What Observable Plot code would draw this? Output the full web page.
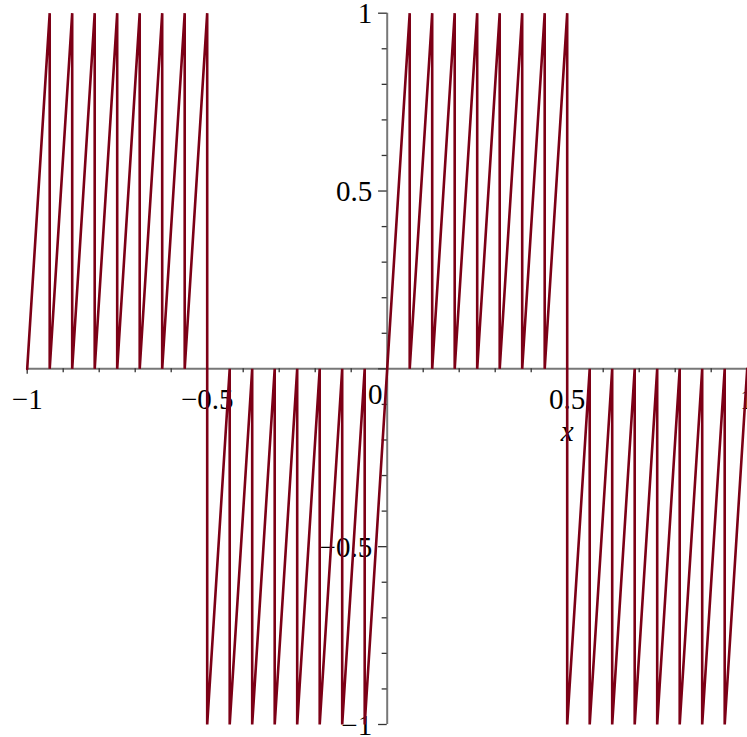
<!DOCTYPE html>
<html><head><meta charset="utf-8">
<script src="https://cdn.jsdelivr.net/npm/d3@7"></script>
<script src="https://cdn.jsdelivr.net/npm/@observablehq/plot@0.6"></script>
<style>body{margin:0;background:#fff;overflow:hidden}</style>
</head><body><div id="chart"></div>
<script>
// Curve vertices (sawtooth, 8 teeth per half unit)
const curveX = [
  -1, -0.9375, -0.9375, -0.875, -0.875, -0.8125, -0.8125, -0.75, -0.75, -0.6875, -0.6875, -0.625, -0.625, -0.5625, -0.5625, -0.5,
  -0.5, -0.4375, -0.4375, -0.375, -0.375, -0.3125, -0.3125, -0.25, -0.25, -0.1875, -0.1875, -0.125, -0.125, -0.0625, -0.0625, 0,
  0.0625, 0.0625, 0.125, 0.125, 0.1875, 0.1875, 0.25, 0.25, 0.3125, 0.3125, 0.375, 0.375, 0.4375, 0.4375, 0.5,
  0.5, 0.5625, 0.5625, 0.625, 0.625, 0.6875, 0.6875, 0.75, 0.75, 0.8125, 0.8125, 0.875, 0.875, 0.9375, 0.9375, 1
];
const curveY = [
  0, 1, 0, 1, 0, 1, 0, 1, 0, 1, 0, 1, 0, 1, 0, 1,
  -1, 0, -1, 0, -1, 0, -1, 0, -1, 0, -1, 0, -1, 0, -1, 0,
  1, 0, 1, 0, 1, 0, 1, 0, 1, 0, 1, 0, 1, 0, 1,
  -1, 0, -1, 0, -1, 0, -1, 0, -1, 0, -1, 0, -1, 0, -1, 0
];
const xMajorTicks = [-1, -0.5, 0.5, 1];
const xMinorTicks = [-0.9, -0.8, -0.7, -0.6, -0.4, -0.3, -0.2, -0.1, 0.1, 0.2, 0.3, 0.4, 0.6, 0.7, 0.8, 0.9];
const yMajorTicks = [1, 0.5, 0, -0.5, -1];
const yMinorTicks = [0.9, 0.8, 0.7, 0.6, 0.4, 0.3, 0.2, 0.1, -0.1, -0.2, -0.3, -0.4, -0.6, -0.7, -0.8, -0.9];
const xLabelValues = [-1, -0.5, 0.5, 1];
const xLabelTexts = ["\u22121", "\u22120.5", "0.5", "1"];
const yLabelValues = [1, 0.5, -0.5, -1];
const yLabelTexts = ["1", "0.5", "\u22120.5", "\u22121"];

const curve = curveX.map((x, i) => ({x, y: curveY[i]}));
const xLabels = xLabelValues.map((v, i) => ({v, t: xLabelTexts[i]}));
const yLabels = yLabelValues.map((v, i) => ({v, t: yLabelTexts[i]}));

const axisColor = "#777";
const font = "Liberation Serif, Times New Roman, serif";

const chart = Plot.plot({
  width: 747,
  height: 737,
  marginLeft: 26.7,
  marginRight: 0.3,
  marginTop: 12.7,
  marginBottom: 13,
  x: {domain: [-1, 1], axis: null},
  y: {domain: [-1, 1], axis: null},
  style: {fontFamily: font, background: "#fff", overflow: "visible"},
  marks: [
    Plot.ruleY([0], {x1: -1, x2: 1, stroke: axisColor, strokeWidth: 2}),
    Plot.ruleX([0], {y1: -1, y2: 1, stroke: axisColor, strokeWidth: 2}),
    Plot.ruleX(xMajorTicks, {x: d => d, y1: 0, y2: -0.015, stroke: "#333", strokeWidth: 1.3}),
    Plot.ruleX(xMinorTicks, {x: d => d, y1: 0, y2: -0.011, stroke: "#333", strokeWidth: 1.3}),
    Plot.ruleY(yMajorTicks, {y: d => d, x1: 0, x2: -0.024, stroke: "#333", strokeWidth: 1.3}),
    Plot.ruleY(yMinorTicks, {y: d => d, x1: 0, x2: -0.014, stroke: "#333", strokeWidth: 1.3}),
    Plot.text(xLabels, {x: "v", y: 0, text: "t", dy: 31, fontSize: 29, fill: "#000", textAnchor: "middle", lineAnchor: "middle"}),
    Plot.text(["0"], {x: 0, y: 0, text: d => d, dx: -12, dy: 26, fontSize: 29, fill: "#000", textAnchor: "middle", lineAnchor: "middle"}),
    Plot.text(yLabels, {x: 0, y: "v", text: "t", dx: -15, dy: 1, fontSize: 29, fill: "#000", textAnchor: "end", lineAnchor: "middle"}),
    Plot.text(["x"], {x: 0.5, y: 0, text: d => d, dy: 63, fontSize: 29, fontStyle: "italic", fill: "#000", textAnchor: "middle", lineAnchor: "middle"}),
    Plot.line(curve, {x: "x", y: "y", stroke: "#7c0016", strokeWidth: 2.6, strokeLinejoin: "miter", strokeMiterlimit: 20})
  ]
});
document.getElementById("chart").appendChild(chart);
</script>
</body></html>
